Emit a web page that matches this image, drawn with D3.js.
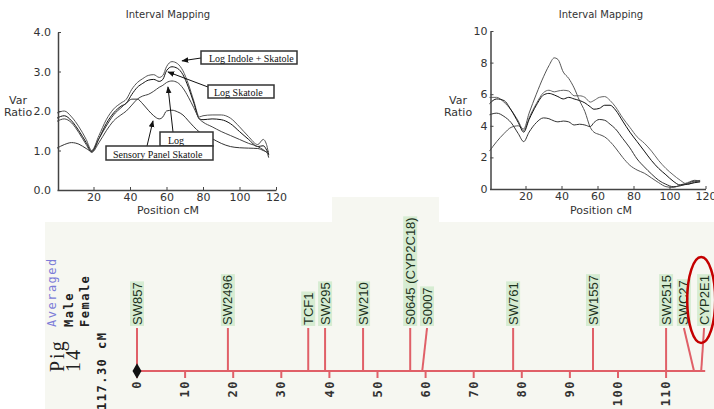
<!DOCTYPE html>
<html>
<head>
<meta charset="utf-8">
<script src="https://cdn.jsdelivr.net/npm/d3@7"></script>
<style>
  body { margin: 0; background: #fff; }
  svg { display: block; }
</style>
</head>
<body>
<div id="figure"></div>
<script>
// left interval mapping panel (Var Ratio, 0-4)
const leftPos = [0, 4, 8, 12, 16, 19, 23, 27, 31, 35, 38, 41, 44, 47, 50, 53, 56, 58, 60, 63, 66, 69, 72, 75, 78, 80, 85, 90, 95, 100, 105, 110, 113, 115, 116];
const leftIndoleSkatole = [1.95, 2.0, 1.85, 1.6, 1.28, 1.0, 1.38, 1.78, 2.05, 2.2, 2.3, 2.55, 2.72, 2.82, 2.9, 2.92, 2.85, 2.9, 3.12, 3.25, 3.2, 3.02, 2.68, 2.25, 1.85, 1.88, 1.9, 1.9, 1.82, 1.6, 1.35, 1.15, 1.28, 1.12, 0.88];
const leftSkatole = [1.82, 1.88, 1.75, 1.5, 1.2, 0.97, 1.3, 1.68, 1.95, 2.12, 2.2, 2.42, 2.6, 2.7, 2.78, 2.8, 2.75, 2.8, 3.02, 3.12, 3.08, 2.92, 2.6, 2.2, 1.8, 1.78, 1.8, 1.78, 1.68, 1.48, 1.28, 1.1, 1.12, 1.0, 0.9];
const leftLog = [1.74, 1.8, 1.7, 1.45, 1.15, 0.95, 1.2, 1.5, 1.75, 1.9, 2.0, 2.15, 2.3, 2.38, 2.42, 2.5, 2.6, 2.65, 2.72, 2.76, 2.72, 2.58, 2.35, 2.08, 1.8, 1.72, 1.6, 1.48, 1.38, 1.28, 1.18, 1.1, 1.02, 0.96, 0.98];
const leftSensory = [1.06, 1.15, 1.2, 1.16, 1.05, 0.98, 1.3, 1.62, 1.9, 2.08, 2.2, 2.3, 2.3, 2.18, 2.02, 1.88, 1.8, 1.85, 2.0, 2.02, 1.98, 1.9, 1.75, 1.6, 1.47, 1.42, 1.3, 1.18, 1.1, 1.07, 1.06, 1.05, 1.0, 0.95, 0.82];
const leftYTicks = [0, 1, 2, 3, 4];

// annotation labels and the curve points they point at [cM, var ratio]
const noteLabels = ['Log Indole + Skatole', 'Log Skatole', 'Log', 'Sensory Panel Skatole'];
const noteTargets = [[68.5, 3.27], [60.8, 2.99], [60.8, 2.61], [52.6, 1.75]];

// right interval mapping panel (Var Ratio, 0-10)
const rightPos = [0, 4, 8, 12, 16, 19, 22, 26, 30, 33, 36, 38, 41, 44, 47, 50, 53, 56, 58, 61, 64, 67, 70, 74, 78, 82, 86, 90, 94, 98, 102, 106, 110, 114, 117];
const rightA = [2.4, 3.0, 3.5, 3.9, 4.0, 3.8, 4.8, 6.0, 7.1, 7.8, 8.3, 8.2, 7.4, 7.0, 6.4, 5.6, 4.9, 3.9, 3.6, 3.45, 3.3, 3.0, 2.6, 2.0, 1.5, 1.2, 1.0, 0.7, 0.4, 0.15, 0.1, 0.25, 0.4, 0.55, 0.5];
const rightB = [5.8, 5.8, 5.5, 5.0, 4.3, 3.7, 4.5, 5.4, 6.1, 6.25, 6.15, 6.2, 6.25, 6.2, 5.9, 5.9, 5.8, 5.5, 5.6, 5.8, 5.85, 5.6, 5.2, 4.5, 3.9, 3.3, 2.9, 2.4, 1.8, 1.3, 0.9, 0.55, 0.3, 0.45, 0.55];
const rightC = [5.4, 5.7, 5.6, 5.0, 4.2, 3.6, 4.4, 5.3, 5.95, 6.05, 5.95, 5.85, 5.7, 5.8, 5.7, 5.6, 5.45, 5.2, 5.05, 5.1, 5.3, 5.3, 5.0, 4.3, 3.6, 3.0, 2.4, 1.8, 1.3, 0.9, 0.5, 0.25, 0.3, 0.4, 0.45];
const rightD = [4.7, 4.8, 4.6, 4.2, 3.5, 3.0, 3.6, 4.2, 4.5, 4.45, 4.3, 4.25, 4.3, 4.25, 4.05, 4.1, 4.05, 3.95, 4.2, 4.4, 4.35, 4.1, 3.8, 3.2, 2.6, 1.9, 1.4, 0.95, 0.55, 0.3, 0.15, 0.2, 0.35, 0.5, 0.5];
const rightYTicks = [0, 2, 4, 6, 8, 10];

const positionTicks = [20, 40, 60, 80, 100, 120];

// linkage map, pig chromosome 14
const markerNames = ['SW857', 'SW2496', 'TCF1', 'SW295', 'SW210', 'S0645 (CYP2C18)', 'S0007', 'SW761', 'SW1557', 'SW2515', 'SWC27', 'CYP2E1'];
const markerPos = [0, 18.9, 35.6, 39.1, 47.0, 56.8, 59.3, 78.2, 94.8, 110.0, 115.8, 117.3];
const markerLabelPos = [0, 18.9, 35.6, 39.1, 47.0, 56.8, 60.3, 78.2, 94.8, 110.0, 113.7, 117.9];
const mapTicks = [0, 10, 20, 30, 40, 50, 60, 70, 80, 90, 100, 110];
const mapLength = 117.3;

const svg = d3.select('#figure').append('svg')
  .attr('width', 714)
  .attr('height', 409);

svg.append('rect').attr('width', 714).attr('height', 409).attr('fill', '#fff');

// light map background, white panels on top for the two plots
svg.append('rect').attr('x', 45).attr('y', 222).attr('width', 669).attr('height', 187).attr('fill', '#f6f7f1');
svg.append('rect').attr('x', 332).attr('y', 197).attr('width', 107).attr('height', 30).attr('fill', '#f6f7f1');

const defs = svg.append('defs');
defs.append('marker')
  .attr('id', 'arrow')
  .attr('viewBox', '0 0 10 10')
  .attr('refX', 9).attr('refY', 5)
  .attr('markerWidth', 7).attr('markerHeight', 7)
  .attr('orient', 'auto')
  .append('path')
  .attr('d', 'M0,1L10,5L0,9Z')
  .attr('fill', '#111');

function drawIntervalChart(cfg) {
  const g = svg.append('g');
  const x = d3.scaleLinear().domain([0, 120]).range(cfg.xRange);
  const y = d3.scaleLinear().domain([0, cfg.yMax]).range(cfg.yRange);

  const line = d3.line()
    .x(d => x(d[0]))
    .y(d => y(d[1]))
    .curve(d3.curveMonotoneX);

  cfg.series.forEach((values, i) => {
    g.append('path')
      .datum(cfg.pos.map((p, j) => [p, values[j]]))
      .attr('fill', 'none')
      .attr('stroke', cfg.colors[i])
      .attr('stroke-width', 1)
      .attr('d', line);
  });

  const xAxis = g.append('g')
    .attr('transform', `translate(0,${cfg.yRange[0]})`)
    .call(d3.axisBottom(x).tickValues(positionTicks).tickSizeInner(-3).tickSizeOuter(0).tickPadding(cfg.xPad));

  const yAxis = g.append('g')
    .attr('transform', `translate(${cfg.xRange[0] + 1},0)`)
    .call(d3.axisLeft(y).tickValues(cfg.yTicks).tickFormat(cfg.format).tickSizeInner(-3).tickSizeOuter(0).tickPadding(cfg.yPad));

  [xAxis, yAxis].forEach(a => {
    a.attr('font-family', 'DejaVu Sans').attr('font-size', 11);
    a.select('.domain').attr('stroke', '#444').attr('stroke-width', 1.5);
    a.selectAll('.tick line').attr('stroke', '#444');
    a.selectAll('.tick text').attr('fill', '#333');
  });

  g.append('text')
    .attr('x', cfg.titleX).attr('y', 18)
    .attr('text-anchor', 'middle')
    .attr('font-family', 'DejaVu Sans').attr('font-size', 10).attr('fill', '#333')
    .text('Interval Mapping');

  g.append('text')
    .attr('x', cfg.titleX).attr('y', 214)
    .attr('text-anchor', 'middle')
    .attr('font-family', 'DejaVu Sans').attr('font-size', 11).attr('fill', '#333')
    .text('Position cM');

  g.append('text')
    .attr('x', cfg.varX).attr('y', 104)
    .attr('text-anchor', 'middle')
    .attr('font-family', 'DejaVu Sans').attr('font-size', 11).attr('fill', '#333')
    .text('Var');
  g.append('text')
    .attr('x', cfg.varX).attr('y', 116)
    .attr('text-anchor', 'middle')
    .attr('font-family', 'DejaVu Sans').attr('font-size', 11).attr('fill', '#333')
    .text('Ratio');

  return { g, x, y };
}

const left = drawIntervalChart({
  xRange: [57, 276], yRange: [190, 32], yMax: 4,
  pos: leftPos,
  series: [leftIndoleSkatole, leftSkatole, leftLog, leftSensory],
  colors: ['#555', '#111', '#444', '#333'],
  yTicks: leftYTicks, format: d3.format('.1f'),
  xPad: 3, yPad: 7, titleX: 168, varX: 18
});

drawIntervalChart({
  xRange: [489.5, 705.5], yRange: [189, 31], yMax: 10,
  pos: rightPos,
  series: [rightA, rightB, rightC, rightD],
  colors: ['#555', '#666', '#111', '#333'],
  yTicks: rightYTicks, format: d3.format('d'),
  xPad: 3, yPad: 3, titleX: 601, varX: 458
});

// annotation boxes on the left plot
const boxes = [
  { x: 201, y: 51, w: 96, h: 13, tx: 209, from: [201, 58] },
  { x: 208, y: 85, w: 66, h: 13, tx: 214, from: [208, 87] },
  { x: 160, y: 132, w: 53, h: 14, tx: 168, from: [173, 132] },
  { x: 106, y: 146, w: 107, h: 14, tx: 113, from: [147, 146] }
];

noteLabels.forEach((label, i) => {
  const b = boxes[i];
  const t = noteTargets[i];
  left.g.append('line')
    .attr('x1', b.from[0]).attr('y1', b.from[1])
    .attr('x2', left.x(t[0])).attr('y2', left.y(t[1]))
    .attr('stroke', '#111').attr('stroke-width', 1)
    .attr('marker-end', 'url(#arrow)');
});

noteLabels.forEach((label, i) => {
  const b = boxes[i];
  left.g.append('rect')
    .attr('x', b.x).attr('y', b.y).attr('width', b.w).attr('height', b.h)
    .attr('fill', '#fff').attr('stroke', '#333').attr('stroke-width', 1.5);
  left.g.append('text')
    .attr('x', b.tx).attr('y', b.y + b.h - 2)
    .attr('font-family', 'Liberation Serif').attr('font-size', 10).attr('fill', '#111')
    .text(label);
});

// linkage map
const mx = d3.scaleLinear().domain([0, mapLength]).range([137, 701.2]);
const axisY = 371;
const labelBase = 325;
const mapRed = '#e06068';

const map = svg.append('g');

map.append('line')
  .attr('x1', mx(0)).attr('x2', mx(mapLength) + 4)
  .attr('y1', axisY).attr('y2', axisY)
  .attr('stroke', mapRed).attr('stroke-width', 2);

map.selectAll('line.tick')
  .data(mapTicks)
  .join('line')
  .attr('class', 'tick')
  .attr('x1', d => mx(d)).attr('x2', d => mx(d))
  .attr('y1', axisY).attr('y2', axisY + 7)
  .attr('stroke', mapRed).attr('stroke-width', 2);

map.selectAll('text.tick')
  .data(mapTicks)
  .join('text')
  .attr('class', 'tick')
  .attr('transform', d => `translate(${mx(d)},380) rotate(-90)`)
  .attr('dy', '0.35em')
  .attr('text-anchor', 'end')
  .attr('font-family', 'DejaVu Sans Mono').attr('font-weight', 'bold')
  .attr('font-size', 12).attr('letter-spacing', 1.5).attr('fill', '#333')
  .text(d => d);

const markers = markerNames.map((name, i) => ({ name, pos: markerPos[i], label: markerLabelPos[i] }));

map.selectAll('line.marker')
  .data(markers)
  .join('line')
  .attr('class', 'marker')
  .attr('x1', d => mx(d.label)).attr('y1', labelBase + 3)
  .attr('x2', d => mx(d.pos)).attr('y2', axisY)
  .attr('stroke', mapRed).attr('stroke-width', 2);

const labels = map.selectAll('g.marker-label')
  .data(markers)
  .join('g')
  .attr('class', 'marker-label')
  .attr('transform', d => `translate(${mx(d.label)},${labelBase}) rotate(-90)`);

labels.append('text')
  .attr('dy', '0.35em')
  .attr('font-family', 'Liberation Sans').attr('font-size', 13).attr('fill', '#1d331d')
  .text(d => d.name);

labels.each(function () {
  const bb = this.querySelector('text').getBBox();
  d3.select(this).insert('rect', 'text')
    .attr('x', bb.x - 1).attr('y', -7)
    .attr('width', bb.width + 2).attr('height', 14)
    .attr('fill', '#d6ecd2');
});

map.append('path')
  .attr('d', d3.symbol(d3.symbolDiamond, 70)())
  .attr('transform', `translate(${mx(0)},${axisY})`)
  .attr('fill', '#111');

// chromosome caption
const caption = [
  { text: 'Averaged', x: 56, color: '#7c7cd8', weight: 'normal' },
  { text: 'Male', x: 73, color: '#222', weight: 'bold' },
  { text: 'Female', x: 89, color: '#222', weight: 'bold' }
];
caption.forEach(c => {
  map.append('text')
    .attr('transform', `translate(${c.x},327) rotate(-90)`)
    .attr('font-family', 'DejaVu Sans Mono').attr('font-weight', c.weight)
    .attr('font-size', 12).attr('letter-spacing', 1.5).attr('fill', c.color)
    .text(c.text);
});

map.append('text')
  .attr('transform', 'translate(64,372) rotate(-90)')
  .attr('font-family', 'Liberation Serif').attr('font-size', 20).attr('letter-spacing', 2)
  .attr('fill', '#222')
  .text('Pig');
map.append('text')
  .attr('transform', 'translate(80,372) rotate(-90)')
  .attr('font-family', 'Liberation Serif').attr('font-size', 20).attr('letter-spacing', 2)
  .attr('fill', '#222')
  .text('14');

map.append('text')
  .attr('transform', 'translate(106,410) rotate(-90)')
  .attr('font-family', 'DejaVu Sans Mono').attr('font-weight', 'bold')
  .attr('font-size', 12).attr('letter-spacing', 1.5).attr('fill', '#222')
  .text(mapLength.toFixed(2) + ' cM');

// highlight around CYP2E1
map.append('ellipse')
  .attr('cx', mx(mapLength)).attr('cy', 300)
  .attr('rx', 14).attr('ry', 43)
  .attr('fill', 'none')
  .attr('stroke', '#c40000').attr('stroke-width', 2.5);
</script>
</body>
</html>
